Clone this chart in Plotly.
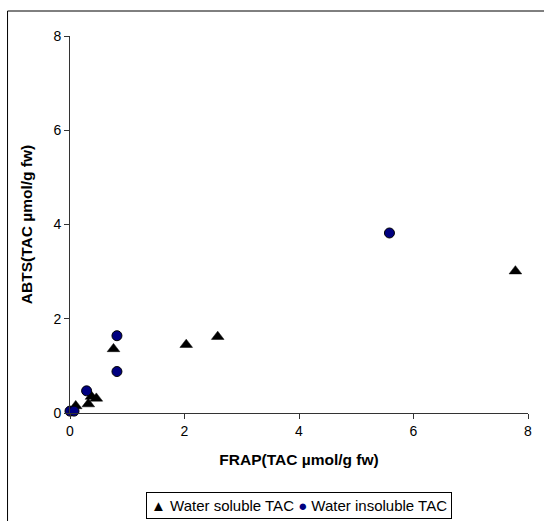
import plotly.graph_objects as go

soluble_x = [0.10, 0.32, 0.375, 0.46, 0.76, 2.03, 2.58, 7.78]
soluble_y = [0.15, 0.19, 0.35, 0.31, 1.36, 1.45, 1.62, 3.01]
insoluble_x = [0.0, 0.07, 0.29, 0.82, 0.82, 5.58]
insoluble_y = [0.04, 0.04, 0.47, 0.88, 1.64, 3.82]
tick_vals = [0, 2, 4, 6, 8]
series_names = ["Water soluble TAC", "Water insoluble TAC"]

L, R, T, B = 70, 12, 36, 108
W, H = 544, 521
pw, ph = W - L - R, H - T - B

def px(x):
    return (x - L) / pw

def py(y):
    return (H - B - y) / ph

FONT = "Liberation Sans, Arial"

fig = go.Figure()
fig.add_trace(go.Scatter(x=soluble_x, y=soluble_y, mode="markers", name=series_names[0],
                         marker=dict(symbol="triangle-up", size=11, color="black",
                                     line=dict(color="black", width=0.5)),
                         cliponaxis=False, showlegend=False))
fig.add_trace(go.Scatter(x=insoluble_x, y=insoluble_y, mode="markers", name=series_names[1],
                         marker=dict(symbol="circle", size=10, color="#000080",
                                     line=dict(color="black", width=1)),
                         cliponaxis=False, showlegend=False))

axis_common = dict(range=[0, 8], tickvals=tick_vals, ticks="outside", ticklen=5,
                   tickcolor="#333", showline=True, linecolor="#333", linewidth=1,
                   showgrid=False, zeroline=False,
                   tickfont=dict(family=FONT, size=14, color="black"))

legend_text = ('<span style="color:black">▲</span> ' + series_names[0] +
               ' <span style="color:#000080">●</span> ' + series_names[1])

fig.update_layout(
    width=W, height=H,
    margin=dict(l=L, r=R, t=T, b=B),
    paper_bgcolor="white", plot_bgcolor="white",
    xaxis=dict(**axis_common,
               title=dict(text="<b>FRAP(TAC µmol/g fw)</b>", standoff=16,
                          font=dict(family=FONT, size=15.5, color="black"))),
    yaxis=dict(**axis_common,
               title=dict(text="<b>ABTS(TAC µmol/g fw)</b>", standoff=16,
                          font=dict(family=FONT, size=15.5, color="black"))),
    showlegend=False,
    annotations=[dict(xref="paper", yref="paper", x=px(300.5), y=py(506),
                      xanchor="center", yanchor="middle", showarrow=False,
                      text=legend_text, bordercolor="black", borderwidth=1,
                      borderpad=4, bgcolor="white",
                      font=dict(family=FONT, size=15, color="black"))],
    shapes=[dict(type="rect", xref="paper", yref="paper",
                 x0=px(7), x1=px(W + 5), y0=py(H + 5), y1=py(11),
                 line=dict(color="black", width=1), layer="below")],
)

fig.write_html("out.html", config={"displayModeBar": False},
               post_script="document.body.style.margin='0';document.body.style.overflow='hidden';")
